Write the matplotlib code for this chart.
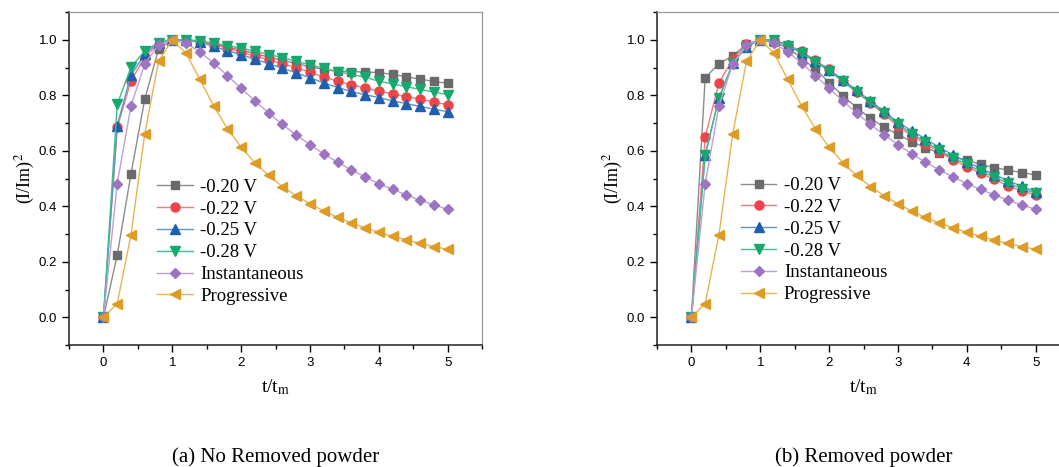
import matplotlib
matplotlib.use("Agg")
import matplotlib.pyplot as plt
from matplotlib.ticker import MultipleLocator

plt.rcParams['mathtext.fontset'] = 'stix'

# dimensionless time t/tm
t = [0.0, 0.2, 0.4, 0.6, 0.8, 1.0, 1.2, 1.4, 1.6, 1.8, 2.0, 2.2, 2.4,
     2.6, 2.8, 3.0, 3.2, 3.4, 3.6, 3.8, 4.0, 4.2, 4.4, 4.6, 4.8, 5.0]

# (a) no removed powder
a_020 = [0, 0.224, 0.517, 0.786, 0.966, 1.0, 1.0, 0.995, 0.985, 0.973, 0.963, 0.950,
         0.938, 0.926, 0.914, 0.903, 0.893, 0.887, 0.885, 0.884, 0.882, 0.875, 0.867,
         0.858, 0.850, 0.843]
a_022 = [0, 0.684, 0.852, 0.938, 0.985, 1.0, 0.999, 0.995, 0.983, 0.971, 0.955, 0.942,
         0.928, 0.914, 0.899, 0.884, 0.866, 0.851, 0.838, 0.827, 0.815, 0.805, 0.795,
         0.786, 0.776, 0.766]
a_025 = [0, 0.691, 0.873, 0.948, 0.990, 1.0, 0.998, 0.992, 0.976, 0.961, 0.947, 0.930,
         0.914, 0.898, 0.881, 0.863, 0.845, 0.828, 0.814, 0.802, 0.792, 0.780, 0.770,
         0.760, 0.750, 0.741]
a_028 = [0, 0.767, 0.902, 0.960, 0.990, 1.0, 1.0, 0.996, 0.988, 0.979, 0.970, 0.959,
         0.947, 0.936, 0.922, 0.910, 0.897, 0.885, 0.876, 0.865, 0.851, 0.841, 0.831,
         0.821, 0.812, 0.802]

# (b) removed powder
b_020 = [0, 0.863, 0.914, 0.942, 0.984, 1.0, 0.993, 0.970, 0.935, 0.894, 0.846, 0.798,
         0.756, 0.717, 0.685, 0.659, 0.633, 0.611, 0.592, 0.578, 0.566, 0.551, 0.539,
         0.531, 0.521, 0.513]
b_022 = [0, 0.650, 0.845, 0.930, 0.985, 1.0, 0.998, 0.982, 0.958, 0.926, 0.893, 0.853,
         0.811, 0.773, 0.731, 0.688, 0.655, 0.625, 0.596, 0.568, 0.543, 0.519, 0.497,
         0.474, 0.456, 0.440]
b_025 = [0, 0.585, 0.790, 0.915, 0.975, 1.0, 0.999, 0.980, 0.955, 0.924, 0.892, 0.856,
         0.818, 0.780, 0.742, 0.703, 0.672, 0.643, 0.612, 0.585, 0.560, 0.537, 0.514,
         0.492, 0.472, 0.453]
b_028 = [0, 0.585, 0.790, 0.915, 0.975, 1.0, 0.998, 0.978, 0.952, 0.920, 0.888, 0.850,
         0.812, 0.775, 0.736, 0.696, 0.662, 0.633, 0.602, 0.575, 0.551, 0.527, 0.505,
         0.483, 0.464, 0.447]

# theoretical curves (same in both panels)
inst = [0, 0.482, 0.762, 0.913, 0.982, 1.0, 0.987, 0.957, 0.916, 0.871, 0.825, 0.780,
        0.736, 0.695, 0.657, 0.622, 0.589, 0.559, 0.531, 0.506, 0.482, 0.461, 0.441,
        0.422, 0.405, 0.389]
prog = [0, 0.049, 0.298, 0.661, 0.922, 1.0, 0.952, 0.857, 0.762, 0.680, 0.613, 0.557,
        0.511, 0.471, 0.438, 0.409, 0.383, 0.360, 0.340, 0.323, 0.306, 0.292, 0.279,
        0.266, 0.255, 0.245]

labels = ['-0.20 V', '-0.22 V', '-0.25 V', '-0.28 V', 'Instantaneous', 'Progressive']
markers = ['s', 'o', '^', 'v', 'D', '<']
mcolors = ['#6a6a6a', '#ee4449', '#1f5fae', '#16a86c', '#9c74c2', '#dd9c26']
lcolors = ['#8c8c8c', '#f47a7e', '#5b94cf', '#3cbf8a', '#bba0da', '#e8b450']
msizes = [6, 6.5, 7, 7, 5.5, 7]

panels = [[a_020, a_022, a_025, a_028, inst, prog],
          [b_020, b_022, b_025, b_028, inst, prog]]
captions = ['(a) No Removed powder', '(b) Removed powder']
lefts = [0.0652, 0.6204]
legend_pos = [(0.19, 0.31), (0.18, 0.315)]

fig = plt.figure(figsize=(10.59, 4.67), dpi=100)

for k in range(2):
    ax = fig.add_axes([lefts[k], 0.2612, 0.39, 0.713])
    for i in range(6):
        ax.plot(t, panels[k][i], marker=markers[i], color=lcolors[i], lw=1.0,
                markerfacecolor=mcolors[i], markeredgecolor=mcolors[i],
                markersize=msizes[i], label=labels[i])
    ax.set_xlim(-0.5, 5.5)
    ax.set_ylim(-0.1, 1.1)
    ax.xaxis.set_major_locator(MultipleLocator(1))
    ax.xaxis.set_minor_locator(MultipleLocator(0.5))
    ax.yaxis.set_minor_locator(MultipleLocator(0.1))
    ax.tick_params(which='major', direction='out', length=5, width=1,
                   labelsize=9.5, top=False, right=False)
    ax.tick_params(which='minor', direction='out', length=3, width=1,
                   top=False, right=False)
    ax.set_yticks([0.0, 0.2, 0.4, 0.6, 0.8, 1.0])
    ax.set_yticklabels(['0.0', '0.2', '0.4', '0.6', '0.8', '1.0'])
    for lab in ax.get_xticklabels() + ax.get_yticklabels():
        lab.set_fontfamily('Liberation Sans')
    for s in ['left', 'bottom']:
        ax.spines[s].set_color('#222222')
        ax.spines[s].set_linewidth(1.1)
    for s in ['top', 'right']:
        ax.spines[s].set_color('#999999')
        ax.spines[s].set_linewidth(0.9)
    ax.set_xlabel('t/t$_{\\mathrm{m}}$', family='Liberation Serif', fontsize=14, labelpad=6)
    ax.set_ylabel('(I/Im)$^{2}$', family='Liberation Serif', fontsize=13, labelpad=1)
    ax.legend(loc='center left', bbox_to_anchor=legend_pos[k], frameon=False,
              prop={'family': 'Liberation Serif', 'size': 13.5},
              handlelength=1.9, handletextpad=0.4, labelspacing=0.25, borderpad=0)
    fig.text(lefts[k] + 0.195, 0.0, captions[k], ha='center', va='bottom',
             family='Liberation Serif', fontsize=15)

fig.savefig('out.png', dpi=100)
